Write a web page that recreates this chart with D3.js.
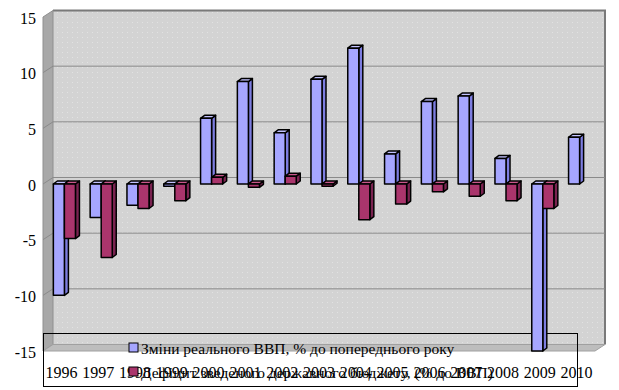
<!DOCTYPE html>
<html>
<head>
<meta charset="utf-8">
<script src="https://cdnjs.cloudflare.com/ajax/libs/d3/7.8.5/d3.min.js"></script>
<style>
  body { margin: 0; background: #fff; }
  svg text { font-family: "Liberation Serif", "Times New Roman", serif; fill: #000; }
</style>
</head>
<body>
<div class="chart"></div>
<script>
const years = ['1996','1997','1998','1999','2000','2001','2002','2003','2004','2005','2006','2007','2008','2009','2010']
const gdp = [-10, -3, -1.9, -0.2, 5.9, 9.2, 4.6, 9.4, 12.2, 2.7, 7.4, 7.9, 2.3, -15, 4.2]
const deficit = [-4.9, -6.6, -2.2, -1.5, 0.6, -0.3, 0.7, -0.2, -3.2, -1.8, -0.7, -1.1, -1.5, -2.2, null]
const seriesNames = ['Зміни реального ВВП, % до попереднього року', 'Дефіцит зведеного державного бюджету, (% до ВВП)']
const yTicks = [-15, -10, -5, 0, 5, 10, 15]

var width = 619,
    height = 390,
    depthX = 10, depthY = -6.5,   // wall depth
    barDX = 4, barDY = -3;        // bar depth

const colors = [
  {front: '#a6a6ff', side: '#7d7de0', top: '#c2c2ff'},
  {front: '#aa356c', side: '#7a2350', top: '#c7578a'}
]

var svg = d3.select('.chart')
.append('svg')
.attr('width', width)
.attr('height', height)

// dotted wall texture
const defs = svg.append('defs')
const pat = defs.append('pattern')
.attr('id', 'dots')
.attr('width', 5)
.attr('height', 5)
.attr('patternUnits', 'userSpaceOnUse')
pat.append('rect').attr('width', 5).attr('height', 5).attr('fill', '#d3d3d3')
pat.append('rect').attr('x', 2).attr('y', 2).attr('width', 1).attr('height', 1).attr('fill', '#e2e2e2')

const y = d3.scaleLinear()
.domain([-15, 15])
.range([351, 17])

const x = d3.scaleBand()
.domain(years)
.range([46, 598])
.paddingInner(0.4)
.paddingOuter(0.2)

const x0 = 43, x1 = 595

// back wall
svg.append('rect')
.attr('x', x0 + depthX)
.attr('y', y(15) + depthY)
.attr('width', x1 - x0)
.attr('height', y(-15) - y(15))
.attr('fill', 'url(#dots)')

svg.append('path')
.attr('d', `M${x0 + depthX},${y(15) + depthY}H${x1 + depthX}V${y(-15) + depthY}`)
.attr('fill', 'none')
.attr('stroke', '#7a7a7a')
.attr('stroke-width', 2)

// left wall
svg.append('path')
.attr('d', `M${x0},${y(15)}L${x0 + depthX},${y(15) + depthY}L${x0 + depthX},${y(-15) + depthY}L${x0},${y(-15)}Z`)
.attr('fill', '#a8a8a8')
.attr('stroke', '#909090')

// floor
svg.append('path')
.attr('d', `M${x0},${y(-15)}L${x1},${y(-15)}L${x1 + depthX},${y(-15) + depthY}L${x0 + depthX},${y(-15) + depthY}Z`)
.attr('fill', '#bdbdbd')
.attr('stroke', '#a0a0a0')

// gridlines
svg.append('g')
.selectAll('path')
.data(yTicks.slice(1, -1))
.enter()
.append('path')
.attr('d', d => `M${x0},${y(d)}L${x0 + depthX},${y(d) + depthY}H${x1 + depthX}`)
.attr('fill', 'none')
.attr('stroke', '#8a8a8a')

// y labels
svg.append('g')
.selectAll('text')
.data(yTicks)
.enter()
.append('text')
.attr('x', 36)
.attr('y', d => y(d) + 1)
.attr('dy', '0.35em')
.attr('text-anchor', 'end')
.attr('font-size', 16)
.text(d => d)

// x labels
svg.append('g')
.selectAll('text')
.data(years)
.enter()
.append('text')
.attr('x', d => x(d) + x.bandwidth() / 2 - 3)
.attr('y', 378)
.attr('text-anchor', 'middle')
.attr('font-size', 16)
.text(d => d)

// legend box
svg.append('rect')
.attr('x', 43.5)
.attr('y', 333.5)
.attr('width', 534)
.attr('height', 53)
.attr('fill', 'none')
.attr('stroke', '#000')

// bars
const bw = x.bandwidth() / 2
const drawBar = (g, bx, v, c) => {
  const top = y(Math.max(v, 0)), bot = y(Math.min(v, 0))
  g.append('path')
  .attr('d', `M${bx + bw},${top}l${barDX},${barDY}V${bot + barDY}l${-barDX},${-barDY}Z`)
  .attr('fill', c.side)
  g.append('path')
  .attr('d', `M${bx},${top}l${barDX},${barDY}h${bw}l${-barDX},${-barDY}Z`)
  .attr('fill', c.top)
  g.append('rect')
  .attr('x', bx)
  .attr('y', top)
  .attr('width', bw)
  .attr('height', Math.max(bot - top, 0.5))
  .attr('fill', c.front)
}

const bars = svg.append('g')
.attr('stroke', '#000')
.attr('stroke-width', 1.5)
.attr('stroke-linejoin', 'round')

years.forEach((yr, i) => {
  [gdp[i], deficit[i]].forEach((v, s) => {
    if (v == null) return
    drawBar(bars.append('g'), x(yr) + s * bw, v, colors[s])
  })
})

// legend items
const legend = svg.append('g')
.selectAll('g')
.data(seriesNames)
.enter()
.append('g')
.attr('transform', (d, i) => `translate(129,${343 + i * 24})`)

legend.append('rect')
.attr('width', 9)
.attr('height', 9)
.attr('fill', (d, i) => colors[i].front)
.attr('stroke', '#000')

legend.append('text')
.attr('x', 12)
.attr('y', 11)
.attr('font-size', 15.5)
.text(d => d)
</script>
</body>
</html>
